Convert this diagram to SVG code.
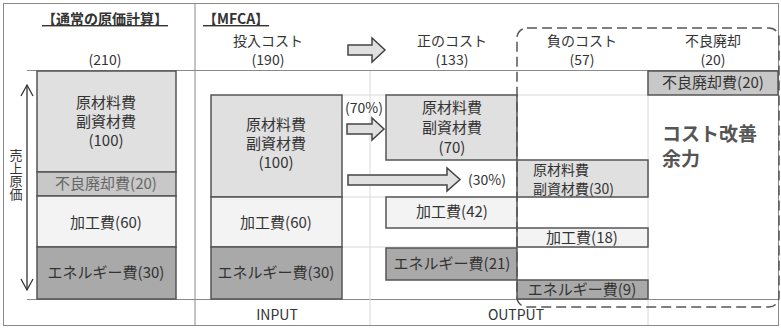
<svg xmlns="http://www.w3.org/2000/svg" width="781" height="329" viewBox="0 0 781 329">
<style>
text{font-family:"Noto Sans CJK JP","Liberation Sans",sans-serif;fill:#333;}
.h{font-size:14px;text-anchor:middle;}
.t{font-size:14px;font-weight:bold;}
.b{font-size:15px;text-anchor:middle;}
.bl{font-size:14px;}
.g{fill:#666;}
.box{stroke:#555;stroke-width:1.5;}
.c1{fill:#e0e0e0;}
.c2{fill:#c8c8c8;}
.c3{fill:#f3f3f3;}
.c4{fill:#a9a9a9;}
.grid{stroke:#8a8a8a;stroke-width:1;fill:none;}
.lite{stroke:#d8d8d8;stroke-width:1;fill:none;}
.arr{fill:#e0e0e0;stroke:#444;stroke-width:1.5;stroke-linejoin:miter;}
</style>
<rect x="0" y="0" width="781" height="329" fill="#fff"/>
<g id="frame">
<rect x="3.5" y="3.5" width="775" height="322" class="grid" stroke="#999"/>
<line x1="195" y1="3.5" x2="195" y2="325.5" class="grid"/>
<line x1="27" y1="70.5" x2="778" y2="70.5" class="grid"/>
<line x1="27" y1="299.5" x2="778" y2="299.5" class="grid"/>
<line x1="370" y1="71" x2="370" y2="325" class="lite"/>
<line x1="648" y1="71" x2="648" y2="325" class="lite"/>
<line x1="342" y1="95" x2="648" y2="95" class="lite"/>
<line x1="342" y1="197" x2="648" y2="197" class="lite"/>
<line x1="342" y1="247" x2="648" y2="247" class="lite"/>
</g>
<g id="headers">
<text x="105" y="24" class="t" text-anchor="middle" text-decoration="underline">【通常の原価計算】</text>
<text x="105" y="65" class="h">(210)</text>
<text x="203" y="24" class="t" text-decoration="underline">【MFCA】</text>
<text x="268" y="46" class="h">投入コスト</text>
<text x="268" y="65" class="h">(190)</text>
<text x="452" y="46" class="h">正のコスト</text>
<text x="452" y="65" class="h">(133)</text>
<text x="582" y="46" class="h">負のコスト</text>
<text x="582" y="65" class="h">(57)</text>
<text x="713" y="46" class="h">不良廃却</text>
<text x="713" y="65" class="h">(20)</text>
<text x="277" y="320" class="h">INPUT</text>
<text x="516" y="320" class="h">OUTPUT</text>
</g>
<g id="sales-cost">
<line x1="27" y1="85" x2="27" y2="290" stroke="#333" stroke-width="1.3"/>
<polyline points="21,96 27,85 33,96" fill="none" stroke="#333" stroke-width="1.3"/>
<polyline points="21,279 27,290 33,279" fill="none" stroke="#333" stroke-width="1.3"/>
<text x="16" y="149" font-size="13" writing-mode="vertical-rl" style="writing-mode:vertical-rl">売上原価</text>
</g>
<g id="normal-stack">
<rect x="37" y="71" width="139" height="101" class="box c1"/>
<text class="b" x="106"><tspan x="106" y="108">原材料費</tspan><tspan x="106" y="127">副資材費</tspan><tspan x="106" y="146">(100)</tspan></text>
<rect x="37" y="172" width="139" height="24" class="box c2"/>
<text class="b g" x="106" y="189">不良廃却費(20)</text>
<rect x="37" y="196" width="139" height="51" class="box c3"/>
<text class="b" x="106" y="228">加工費(60)</text>
<rect x="37" y="247" width="139" height="52" class="box c4"/>
<text class="b" x="106" y="278">エネルギー費(30)</text>
</g>
<g id="input-stack">
<rect x="211" y="95" width="131" height="102" class="box c1"/>
<text class="b" x="276"><tspan x="276" y="130">原材料費</tspan><tspan x="276" y="149">副資材費</tspan><tspan x="276" y="168">(100)</tspan></text>
<rect x="211" y="197" width="131" height="50" class="box c3"/>
<text class="b" x="276" y="228">加工費(60)</text>
<rect x="211" y="247" width="131" height="52" class="box c4"/>
<text class="b" x="276" y="278">エネルギー費(30)</text>
</g>
<g id="connectors">
<path d="M348,45 H372 V38 L385,50 L372,62 V55 H348 Z" class="arr"/>
<path d="M347,124 H372 V118 L384,129 L372,140 V134 H347 Z" class="arr"/>
<path d="M348,175 H447 V168 L460,179.5 L447,191 V185 H348 Z" class="arr"/>
<text x="364" y="113" class="h">(70%)</text>
<text x="487" y="185" class="h">(30%)</text>
</g>
<g id="positive-cost">
<rect x="386" y="95" width="131" height="65" class="box c1"/>
<text class="b" x="452"><tspan x="452" y="113">原材料費</tspan><tspan x="452" y="133">副資材費</tspan><tspan x="452" y="153">(70)</tspan></text>
<rect x="386" y="197" width="131" height="31" class="box c3"/>
<text class="b" x="452" y="217">加工費(42)</text>
<rect x="386" y="248" width="131" height="32" class="box c4"/>
<text class="b" x="452" y="269">エネルギー費(21)</text>
</g>
<g id="negative-cost">
<rect x="517" y="160" width="131" height="37" class="box c1"/>
<text class="bl"><tspan x="533" y="175">原材料費</tspan><tspan x="533" y="193.5">副資材費(30)</tspan></text>
<rect x="517" y="228" width="131" height="19" class="box c3"/>
<text class="b" x="582" y="243">加工費(18)</text>
<rect x="517" y="280" width="131" height="19" class="box c4"/>
<text class="b" x="582" y="295">エネルギー費(9)</text>
</g>
<g id="defect">
<rect x="648" y="71" width="130" height="24" class="box c2"/>
<text class="b" x="713" y="88">不良廃却費(20)</text>
</g>
<g id="margin">
<text font-size="19" font-weight="bold" style="fill:#555"><tspan x="662" y="141">コスト改善</tspan><tspan x="662" y="166">余力</tspan></text>
</g>
<g id="dashed-region">
<rect x="517" y="28" width="262" height="279" rx="10" ry="10" fill="none" stroke="#555" stroke-width="1.5" stroke-dasharray="10,5"/>
</g>
</svg>
